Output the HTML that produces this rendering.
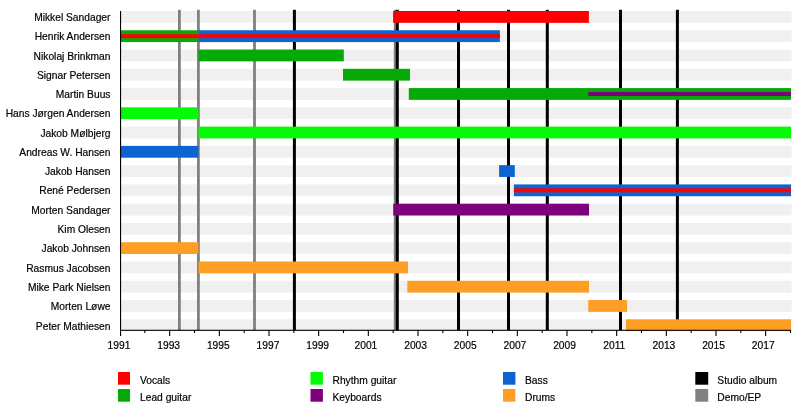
<!DOCTYPE html>
<html><head><meta charset="utf-8"><title>Timeline</title>
<style>html,body{margin:0;padding:0;background:#fff}svg{display:block}text{font-family:"Liberation Sans",sans-serif;font-size:10.25px;fill:#000;stroke:#000;stroke-width:0.18px}</style></head>
<body>
<svg width="800" height="420" viewBox="0 0 800 420">
<rect width="800" height="420" fill="#fff"/>
<rect x="120.3" y="11.00" width="671.30" height="11.8" fill="#f0f0f0"/>
<rect x="120.3" y="30.27" width="671.30" height="11.8" fill="#f0f0f0"/>
<rect x="120.3" y="49.54" width="671.30" height="11.8" fill="#f0f0f0"/>
<rect x="120.3" y="68.81" width="671.30" height="11.8" fill="#f0f0f0"/>
<rect x="120.3" y="88.08" width="671.30" height="11.8" fill="#f0f0f0"/>
<rect x="120.3" y="107.35" width="671.30" height="11.8" fill="#f0f0f0"/>
<rect x="120.3" y="126.62" width="671.30" height="11.8" fill="#f0f0f0"/>
<rect x="120.3" y="145.89" width="671.30" height="11.8" fill="#f0f0f0"/>
<rect x="120.3" y="165.16" width="671.30" height="11.8" fill="#f0f0f0"/>
<rect x="120.3" y="184.43" width="671.30" height="11.8" fill="#f0f0f0"/>
<rect x="120.3" y="203.70" width="671.30" height="11.8" fill="#f0f0f0"/>
<rect x="120.3" y="222.97" width="671.30" height="11.8" fill="#f0f0f0"/>
<rect x="120.3" y="242.24" width="671.30" height="11.8" fill="#f0f0f0"/>
<rect x="120.3" y="261.51" width="671.30" height="11.8" fill="#f0f0f0"/>
<rect x="120.3" y="280.78" width="671.30" height="11.8" fill="#f0f0f0"/>
<rect x="120.3" y="300.05" width="671.30" height="11.8" fill="#f0f0f0"/>
<rect x="120.3" y="319.32" width="671.30" height="11.8" fill="#f0f0f0"/>
<rect x="178.00" y="9.8" width="2.8" height="320.20" fill="#808080"/>
<rect x="197.00" y="9.8" width="2.8" height="320.20" fill="#808080"/>
<rect x="253.10" y="9.8" width="2.8" height="320.20" fill="#808080"/>
<rect x="393.80" y="9.8" width="2.8" height="320.20" fill="#808080"/>
<rect x="292.90" y="9.8" width="3" height="320.20" fill="#000"/>
<rect x="395.80" y="9.8" width="3" height="320.20" fill="#000"/>
<rect x="457.00" y="9.8" width="3" height="320.20" fill="#000"/>
<rect x="507.00" y="9.8" width="3" height="320.20" fill="#000"/>
<rect x="545.80" y="9.8" width="3" height="320.20" fill="#000"/>
<rect x="619.00" y="9.8" width="3" height="320.20" fill="#000"/>
<rect x="675.90" y="9.8" width="3" height="320.20" fill="#000"/>
<rect x="393.10" y="11.00" width="195.80" height="11.8" fill="#ff0000"/>
<rect x="120.30" y="30.27" width="78.10" height="11.8" fill="#06aa06"/>
<rect x="198.40" y="30.27" width="301.45" height="11.8" fill="#0b64d2"/>
<rect x="120.30" y="34.17" width="379.55" height="4" fill="#ff0000"/>
<rect x="198.40" y="49.54" width="145.40" height="11.8" fill="#06aa06"/>
<rect x="343.00" y="68.81" width="67.00" height="11.8" fill="#06aa06"/>
<rect x="408.80" y="88.08" width="382.20" height="11.8" fill="#06aa06"/>
<rect x="588.40" y="91.98" width="202.60" height="4" fill="#7d007d"/>
<rect x="120.30" y="107.35" width="78.10" height="11.8" fill="#05fa05"/>
<rect x="198.40" y="126.62" width="592.60" height="11.8" fill="#05fa05"/>
<rect x="120.30" y="145.89" width="78.10" height="11.8" fill="#0b64d2"/>
<rect x="499.10" y="165.16" width="15.70" height="11.8" fill="#0b64d2"/>
<rect x="513.90" y="184.43" width="277.10" height="11.8" fill="#0b64d2"/>
<rect x="513.90" y="188.33" width="277.10" height="4" fill="#ff0000"/>
<rect x="393.20" y="203.70" width="195.80" height="11.8" fill="#7d007d"/>
<rect x="120.30" y="242.24" width="78.10" height="11.8" fill="#ff9e24"/>
<rect x="198.40" y="261.51" width="209.60" height="11.8" fill="#ff9e24"/>
<rect x="407.30" y="280.78" width="181.70" height="11.8" fill="#ff9e24"/>
<rect x="588.25" y="300.05" width="38.85" height="11.8" fill="#ff9e24"/>
<rect x="626.00" y="319.32" width="165.00" height="11.8" fill="#ff9e24"/>
<rect x="120" y="11" width="1.1" height="319.80" fill="#000"/>
<rect x="120" y="329.75" width="671.00" height="1.1" fill="#000"/>
<rect x="120.00" y="330.0" width="1.1" height="6.0" fill="#000"/>
<text x="119.00" y="348.5" text-anchor="middle" font-size="10">1991</text>
<rect x="144.28" y="330.0" width="1.1" height="3.0" fill="#000"/>
<rect x="169.12" y="330.0" width="1.1" height="6.0" fill="#000"/>
<text x="168.67" y="348.5" text-anchor="middle" font-size="10">1993</text>
<rect x="193.95" y="330.0" width="1.1" height="3.0" fill="#000"/>
<rect x="218.78" y="330.0" width="1.1" height="6.0" fill="#000"/>
<text x="218.33" y="348.5" text-anchor="middle" font-size="10">1995</text>
<rect x="243.61" y="330.0" width="1.1" height="3.0" fill="#000"/>
<rect x="268.45" y="330.0" width="1.1" height="6.0" fill="#000"/>
<text x="268.00" y="348.5" text-anchor="middle" font-size="10">1997</text>
<rect x="293.28" y="330.0" width="1.1" height="3.0" fill="#000"/>
<rect x="318.11" y="330.0" width="1.1" height="6.0" fill="#000"/>
<text x="317.66" y="348.5" text-anchor="middle" font-size="10">1999</text>
<rect x="342.95" y="330.0" width="1.1" height="3.0" fill="#000"/>
<rect x="367.78" y="330.0" width="1.1" height="6.0" fill="#000"/>
<text x="365.93" y="348.5" text-anchor="middle" font-size="10">2001</text>
<rect x="392.61" y="330.0" width="1.1" height="3.0" fill="#000"/>
<rect x="417.45" y="330.0" width="1.1" height="6.0" fill="#000"/>
<text x="415.60" y="348.5" text-anchor="middle" font-size="10">2003</text>
<rect x="442.28" y="330.0" width="1.1" height="3.0" fill="#000"/>
<rect x="467.11" y="330.0" width="1.1" height="6.0" fill="#000"/>
<text x="465.26" y="348.5" text-anchor="middle" font-size="10">2005</text>
<rect x="491.94" y="330.0" width="1.1" height="3.0" fill="#000"/>
<rect x="516.78" y="330.0" width="1.1" height="6.0" fill="#000"/>
<text x="514.93" y="348.5" text-anchor="middle" font-size="10">2007</text>
<rect x="541.61" y="330.0" width="1.1" height="3.0" fill="#000"/>
<rect x="566.44" y="330.0" width="1.1" height="6.0" fill="#000"/>
<text x="564.59" y="348.5" text-anchor="middle" font-size="10">2009</text>
<rect x="591.28" y="330.0" width="1.1" height="3.0" fill="#000"/>
<rect x="616.11" y="330.0" width="1.1" height="6.0" fill="#000"/>
<text x="614.26" y="348.5" text-anchor="middle" font-size="10">2011</text>
<rect x="640.94" y="330.0" width="1.1" height="3.0" fill="#000"/>
<rect x="665.78" y="330.0" width="1.1" height="6.0" fill="#000"/>
<text x="663.93" y="348.5" text-anchor="middle" font-size="10">2013</text>
<rect x="690.61" y="330.0" width="1.1" height="3.0" fill="#000"/>
<rect x="715.44" y="330.0" width="1.1" height="6.0" fill="#000"/>
<text x="713.59" y="348.5" text-anchor="middle" font-size="10">2015</text>
<rect x="740.27" y="330.0" width="1.1" height="3.0" fill="#000"/>
<rect x="765.11" y="330.0" width="1.1" height="6.0" fill="#000"/>
<text x="763.26" y="348.5" text-anchor="middle" font-size="10">2017</text>
<rect x="789.94" y="330.0" width="1.1" height="3.0" fill="#000"/>
<text x="110.5" y="21" text-anchor="end">Mikkel Sandager</text>
<text x="110.5" y="40" text-anchor="end">Henrik Andersen</text>
<text x="110.5" y="60" text-anchor="end">Nikolaj Brinkman</text>
<text x="110.5" y="79" text-anchor="end">Signar Petersen</text>
<text x="110.5" y="98" text-anchor="end">Martin Buus</text>
<text x="110.5" y="117" text-anchor="end">Hans Jørgen Andersen</text>
<text x="110.5" y="137" text-anchor="end">Jakob Mølbjerg</text>
<text x="110.5" y="156" text-anchor="end">Andreas W. Hansen</text>
<text x="110.5" y="175" text-anchor="end">Jakob Hansen</text>
<text x="110.5" y="194" text-anchor="end">René Pedersen</text>
<text x="110.5" y="214" text-anchor="end">Morten Sandager</text>
<text x="110.5" y="233" text-anchor="end">Kim Olesen</text>
<text x="110.5" y="252" text-anchor="end">Jakob Johnsen</text>
<text x="110.5" y="272" text-anchor="end">Rasmus Jacobsen</text>
<text x="110.5" y="291" text-anchor="end">Mike Park Nielsen</text>
<text x="110.5" y="310" text-anchor="end">Morten Løwe</text>
<text x="110.5" y="330" text-anchor="end">Peter Mathiesen</text>
<rect x="118" y="372" width="12.0" height="12.7" fill="#ff0000"/>
<text x="140.0" y="384">Vocals</text>
<rect x="118" y="389" width="12.0" height="12.7" fill="#06aa06"/>
<text x="140.0" y="401">Lead guitar</text>
<rect x="310.5" y="372" width="12.4" height="12.7" fill="#05fa05"/>
<text x="332.5" y="384">Rhythm guitar</text>
<rect x="310.5" y="389" width="12.4" height="12.7" fill="#7d007d"/>
<text x="332.5" y="401">Keyboards</text>
<rect x="503" y="372" width="12.4" height="12.7" fill="#0b64d2"/>
<text x="525.0" y="384">Bass</text>
<rect x="503" y="389" width="12.4" height="12.7" fill="#ff9e24"/>
<text x="525.0" y="401">Drums</text>
<rect x="695.3" y="372" width="12.9" height="12.7" fill="#000"/>
<text x="717.3" y="384">Studio album</text>
<rect x="695.3" y="389" width="12.9" height="12.7" fill="#808080"/>
<text x="717.3" y="401">Demo/EP</text>
</svg>
</body></html>
